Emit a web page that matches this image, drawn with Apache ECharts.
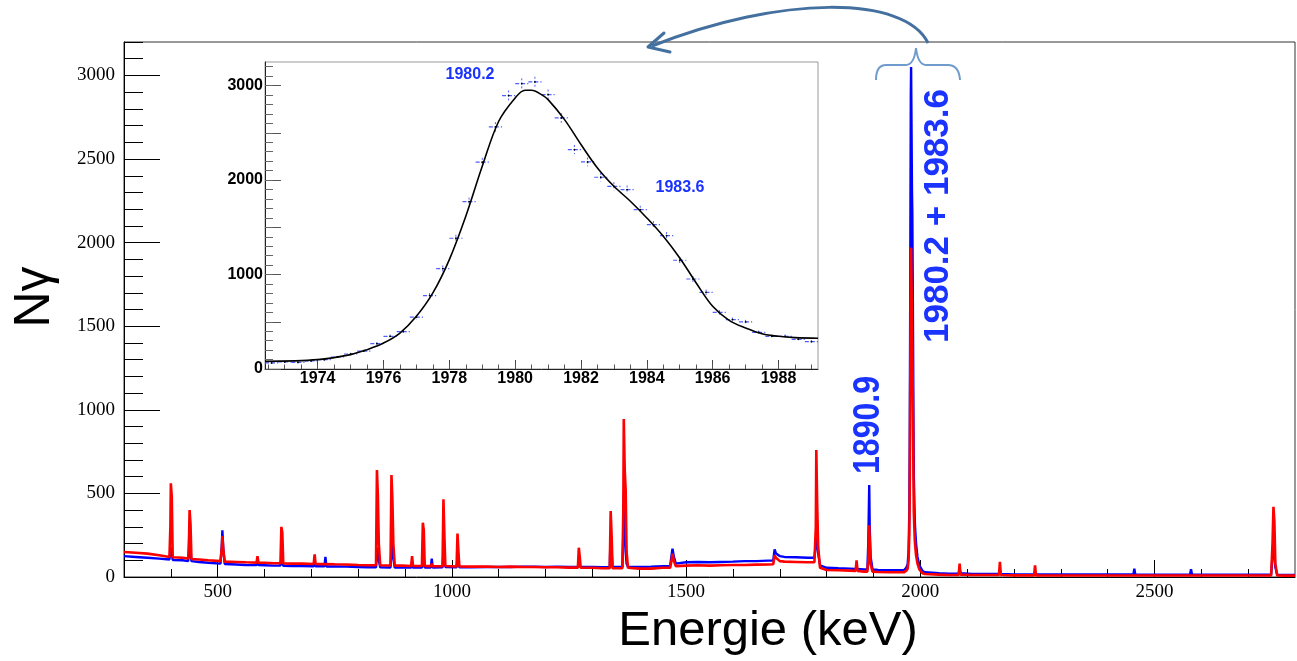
<!DOCTYPE html>
<html><head><meta charset="utf-8">
<script src="https://cdn.jsdelivr.net/npm/echarts@6/dist/echarts.min.js"></script>
<style>html,body{margin:0;padding:0;background:#fff}#c{width:1297px;height:661px}</style>
</head><body><div id="c"></div>
<script>
// ---- main spectrum (energy in keV, counts per bin) ----
const energyKeV = [
 300,325,350,375,397,399,400,402,404,425,
 437,439,440,442,444,460,480,506,509,510,
 512,515,540,560,583,585,587,600,620,634,
 636,638,640,660,680,705,707,709,728,730,
 732,750,775,800,820,838,840,842,844,847,
 869,871,873,875,878,895,913,915,917,936,
 938,940,942,955,957,959,980,982,984,986,
 1010,1012,1014,1016,1040,1075,1100,1125,1150,1175,
 1200,1225,1250,1269,1271,1273,1275,1300,1320,1337,
 1339,1341,1343,1364,1366,1367,1369,1371,1373,1376,
 1400,1425,1450,1466,1469,1471,1474,1478,1500,1525,
 1550,1575,1600,1625,1650,1675,1686,1689,1692,1700,
 1710,1735,1760,1774,1777,1778,1780,1782,1786,1800,
 1825,1850,1862,1864,1866,1880,1887,1889,1891,1892,
 1894,1898,1910,1935,1955,1965,1970,1973,1975,1976.6,
 1977.4,1978.2,1979,1979.8,1980.4,1981.4,1982.2,1983,1983.6,1984.6,
 1985.4,1986.2,1987,1988.2,1989,1991,1994,1998,2005,2010,
 2040,2060,2082,2084,2086,2110,2140,2168,2170,2172,
 2200,2225,2243,2245,2247,2275,2300,2350,2400,2455,
 2457,2459,2500,2550,2576,2578,2580,2620,2680,2720,
 2749,2752,2754,2756,2758,2762,2780,2800
];
const countsBlue = [
 125,120,115,110,105,150,175,140,102,100,
 95,150,190,150,95,90,85,80,200,280,
 170,78,75,72,71,90,71,70,68,68,
 115,100,67,66,65,64,80,64,64,120,
 63,63,62,60,58,58,140,175,100,58,
 57,180,225,110,57,57,57,70,57,57,
 100,115,57,57,110,57,58,150,160,60,
 58,115,90,58,58,60,60,60,62,62,
 60,62,60,60,80,70,60,60,58,58,
 270,150,60,60,250,500,330,150,80,62,
 60,62,65,66,130,170,120,80,88,90,
 88,90,92,95,95,98,98,165,140,125,
 120,118,115,115,200,260,200,140,70,55,
 52,50,48,60,48,45,45,200,550,300,
 120,45,42,40,40,40,55,75,150,395,
 777,1384,2189,2895,3050,2658,2320,2180,1900,1412,
 953,600,498,346,289,200,120,70,35,28,
 22,20,20,50,22,18,18,18,40,18,
 16,16,16,30,16,15,15,15,15,15,
 50,15,14,14,15,46,15,14,14,14,
 14,120,230,150,60,14,12,12
];
const countsRed = [
 150,145,140,130,120,300,560,480,118,115,
 110,250,400,315,108,105,100,95,180,245,
 160,92,90,88,86,125,86,85,82,82,
 300,265,81,80,80,78,135,78,77,80,
 77,76,75,72,70,70,640,485,200,70,
 69,610,465,200,68,68,66,125,66,66,
 325,280,66,65,80,65,64,465,250,66,
 63,260,150,63,62,62,60,62,60,60,
 58,58,56,56,175,120,56,55,52,52,
 395,250,53,52,400,945,640,520,150,55,
 50,50,55,56,100,140,95,65,68,70,
 68,70,72,72,74,75,76,130,115,95,
 92,90,88,88,300,760,420,180,55,42,
 40,38,36,100,36,32,32,100,310,220,
 80,32,30,28,28,28,38,50,100,260,
 500,900,1420,1880,1970,1730,1500,1410,1240,920,
 620,390,320,225,190,130,80,45,22,18,
 14,12,12,80,14,12,12,12,90,12,
 10,10,10,70,10,9,9,9,9,9,
 15,9,9,9,9,15,9,9,9,9,
 9,200,420,330,80,9,8,8
];
// ---- inset: zoom on the 1980.2 + 1983.6 doublet ----
const insetEnergy = [
 1972.6,1973.0,1973.4,1973.8,1974.2,1974.6,1975.0,1975.4,1975.8,1976.2,
 1976.6,1977.0,1977.4,1977.8,1978.2,1978.6,1979.0,1979.4,1979.8,1980.2,
 1980.6,1981.0,1981.4,1981.8,1982.2,1982.6,1983.0,1983.4,1983.8,1984.2,
 1984.6,1985.0,1985.4,1985.8,1986.2,1986.6,1987.0,1987.4,1987.8,1988.2,
 1988.6,1989.0
];
const insetCounts = [
 64,74,70,85,99,127,159,190,268,346,
 395,550,777,1063,1384,1772,2189,2563,2895,3022,
 3039,2905,2658,2323,2192,2030,1934,1899,1687,1528,
 1412,1151,953,812,600,522,498,388,346,346,
 314,289
];
const fitEnergy = [1972.4,1974,1975,1975.5,1976,1976.5,1977,1977.5,1978,1978.5,1979,1979.5,1980,1980.3,1980.5,1980.8,1981,1981.5,1982,1982.5,1983,1983.5,1984,1984.5,1985,1985.5,1986,1986.5,1987,1987.5,1988,1988.5,1989.2];
const fitCounts = [81,99,152,205,275,381,558,805,1158,1617,2146,2623,2870,2951,2951,2905,2852,2640,2376,2128,1934,1776,1599,1405,1175,911,664,515,434,374,346,332,325];

// ---- tick labels ----
const mainXLabels = [500,1000,1500,2000,2500];
const mainYLabels = [0,500,1000,1500,2000,2500,3000];
const insetXLabels = [1974,1976,1978,1980,1982,1984,1986,1988];
const insetYLabels = [0,1000,2000,3000];
const insetYMajorTicks = [0,500,1000,1500,2000,2500,3000];

const mainXMinor = []; for (let v = 400; v <= 2700; v += 100) mainXMinor.push(v);
const mainYMinor = []; for (let v = 100; v <= 3200; v += 100) mainYMinor.push(v);
const insetXMinor = []; for (let v = 19725; v <= 19890; v += 5) insetXMinor.push(v / 10);
const insetYMinor = []; for (let v = 100; v <= 3200; v += 100) insetYMinor.push(v);

const zip = (a, b) => a.map((v, i) => [v, b[i]]);
const plain = v => String(v);

const serif = "'Liberation Serif','DejaVu Serif',serif";
const narrow = "'Liberation Sans Narrow','Liberation Sans',Arial,sans-serif";
const sans = "'Liberation Sans',Arial,sans-serif";
const annBlue = '#1a33ff';
const braceCol = '#6f9ccc';
const arrowCol = '#44709f';

const chart = echarts.init(document.getElementById('c'), null, {renderer: 'canvas'});

function axisBase(gridIndex, min, max) {
  return {type: 'value', gridIndex, min, max, splitLine: {show: false}};
}

const option = {
  animation: false,
  backgroundColor: '#fff',
  grid: [
    {left: 124, top: 42, width: 1171, height: 535, show: true, borderColor: '#333', borderWidth: 1, backgroundColor: 'transparent'},
    {left: 265, top: 62, width: 553, height: 307, show: true, borderColor: '#999', borderWidth: 1, backgroundColor: '#fff'}
  ],
  xAxis: [
    Object.assign(axisBase(0, 300, 2800), {
      position: 'bottom',
      axisLine: {show: true, lineStyle: {color: '#000', width: 1}},
      axisTick: {show: true, inside: true, length: 17, customValues: mainXLabels, lineStyle: {color: '#000'}},
      axisLabel: {customValues: mainXLabels, formatter: plain, fontFamily: serif, fontSize: 19, color: '#000', margin: 6}
    }),
    Object.assign(axisBase(0, 300, 2800), {
      position: 'bottom',
      axisLine: {show: false},
      axisTick: {show: true, inside: true, length: 8, customValues: mainXMinor, lineStyle: {color: '#000'}},
      axisLabel: {show: false}
    }),
    Object.assign(axisBase(1, 1972.4, 1989.2), {
      position: 'bottom',
      axisLine: {show: true, lineStyle: {color: '#222', width: 1}},
      axisTick: {show: true, inside: true, length: 9, customValues: insetXLabels, lineStyle: {color: '#444'}},
      axisLabel: {customValues: insetXLabels, formatter: plain, fontFamily: narrow, fontWeight: 'bold', fontSize: 16, color: '#000', margin: 2}
    }),
    Object.assign(axisBase(1, 1972.4, 1989.2), {
      position: 'bottom',
      axisLine: {show: false},
      axisTick: {show: true, inside: true, length: 4.5, customValues: insetXMinor, lineStyle: {color: '#555'}},
      axisLabel: {show: false}
    })
  ],
  yAxis: [
    Object.assign(axisBase(0, 0, 3200), {
      position: 'left',
      axisLine: {show: true, lineStyle: {color: '#000', width: 1}},
      axisTick: {show: true, inside: true, length: 36, customValues: mainYLabels, lineStyle: {color: '#000'}},
      axisLabel: {customValues: mainYLabels, formatter: plain, fontFamily: serif, fontSize: 19, color: '#000', margin: 9}
    }),
    Object.assign(axisBase(0, 0, 3200), {
      position: 'left',
      axisLine: {show: false},
      axisTick: {show: true, inside: true, length: 19, customValues: mainYMinor, lineStyle: {color: '#000'}},
      axisLabel: {show: false}
    }),
    Object.assign(axisBase(1, 0, 3250), {
      position: 'left',
      axisLine: {show: true, lineStyle: {color: '#222', width: 1}},
      axisTick: {show: true, inside: true, length: 16, customValues: insetYMajorTicks, lineStyle: {color: '#555'}},
      axisLabel: {customValues: insetYLabels, formatter: plain, fontFamily: narrow, fontWeight: 'bold', fontSize: 16, color: '#000', margin: 2}
    }),
    Object.assign(axisBase(1, 0, 3250), {
      position: 'left',
      axisLine: {show: false},
      axisTick: {show: true, inside: true, length: 8, customValues: insetYMinor, lineStyle: {color: '#666'}},
      axisLabel: {show: false}
    })
  ],
  series: [
    {
      name: 'blue', type: 'line', xAxisIndex: 0, yAxisIndex: 0,
      data: zip(energyKeV, countsBlue), showSymbol: false, z: 3,
      lineStyle: {color: '#0000ff', width: 2.4}
    },
    {
      name: 'red', type: 'line', xAxisIndex: 0, yAxisIndex: 0,
      data: zip(energyKeV, countsRed), showSymbol: false, z: 4,
      lineStyle: {color: '#ff0000', width: 2.6}
    },
    {
      name: 'inset-data', type: 'custom', xAxisIndex: 2, yAxisIndex: 2, z: 5,
      data: zip(insetEnergy, insetCounts),
      renderItem: function (params, api) {
        const x = api.value(0), y = api.value(1), e = Math.sqrt(y);
        const l = api.coord([x - 0.2, y]), r = api.coord([x + 0.2, y]);
        const t = api.coord([x, y + e]), b = api.coord([x, y - e]);
        const c = api.coord([x, y]);
        return {type: 'group', children: [
          {type: 'line', shape: {x1: l[0], y1: l[1], x2: r[0], y2: r[1]}, style: {stroke: '#4d5fff', lineWidth: 1.2, lineDash: [4, 2]}},
          {type: 'line', shape: {x1: t[0], y1: t[1], x2: b[0], y2: b[1]}, style: {stroke: '#4d5fff', lineWidth: 1, lineDash: [2, 2]}},
          {type: 'circle', shape: {cx: c[0], cy: c[1], r: 0.9}, style: {fill: '#000'}}
        ]};
      }
    },
    {
      name: 'fit', type: 'line', xAxisIndex: 2, yAxisIndex: 2, z: 6,
      data: zip(fitEnergy, fitCounts), showSymbol: false, smooth: 0.35,
      lineStyle: {color: '#000', width: 1.6}
    }
  ],
  graphic: [
    {type: 'text', x: 35, y: 297, rotation: Math.PI / 2, z: 10,
      style: {text: 'N\u03b3', fontFamily: sans, fontSize: 50, fill: '#000', textAlign: 'center', textVerticalAlign: 'middle'}},
    {type: 'text', x: 768, y: 631, z: 10,
      style: {text: 'Energie (keV)', fontFamily: sans, fontSize: 49, fill: '#000', textAlign: 'center', textVerticalAlign: 'middle'}},
    {type: 'text', x: 869, y: 425, rotation: Math.PI / 2, scaleX: 0.89, z: 10,
      style: {text: '1890.9', fontFamily: sans, fontWeight: 'bold', fontSize: 36, fill: annBlue, textAlign: 'center', textVerticalAlign: 'middle'}},
    {type: 'text', x: 938, y: 216, rotation: Math.PI / 2, z: 10,
      style: {text: '1980.2 + 1983.6', fontFamily: sans, fontWeight: 'bold', fontSize: 35, fill: annBlue, textAlign: 'center', textVerticalAlign: 'middle'}},
    {type: 'text', x: 470, y: 75, z: 10,
      style: {text: '1980.2', fontFamily: sans, fontWeight: 'bold', fontSize: 16, fill: annBlue, textAlign: 'center', textVerticalAlign: 'middle'}},
    {type: 'text', x: 680, y: 188, z: 10,
      style: {text: '1983.6', fontFamily: sans, fontWeight: 'bold', fontSize: 16, fill: annBlue, textAlign: 'center', textVerticalAlign: 'middle'}},
    // brace over the doublet
    {type: 'bezierCurve', z: 10, shape: {x1: 876, y1: 80, cpx1: 876, cpy1: 65, x2: 886, y2: 65}, style: {stroke: braceCol, lineWidth: 2, fill: null}},
    {type: 'line', z: 10, shape: {x1: 886, y1: 65, x2: 906, y2: 65}, style: {stroke: braceCol, lineWidth: 2}},
    {type: 'bezierCurve', z: 10, shape: {x1: 906, y1: 65, cpx1: 914, cpy1: 65, x2: 916, y2: 48}, style: {stroke: braceCol, lineWidth: 2, fill: null}},
    {type: 'bezierCurve', z: 10, shape: {x1: 916, y1: 48, cpx1: 918, cpy1: 65, x2: 926, y2: 65}, style: {stroke: braceCol, lineWidth: 2, fill: null}},
    {type: 'line', z: 10, shape: {x1: 926, y1: 65, x2: 948, y2: 65}, style: {stroke: braceCol, lineWidth: 2}},
    {type: 'bezierCurve', z: 10, shape: {x1: 948, y1: 65, cpx1: 959, cpy1: 65, x2: 960, y2: 80}, style: {stroke: braceCol, lineWidth: 2, fill: null}},
    // arrow to the inset
    {type: 'bezierCurve', z: 10, shape: {x1: 928, y1: 43, cpx1: 905, cpy1: -5, cpx2: 780, cpy2: -5, x2: 652, y2: 46}, style: {stroke: arrowCol, lineWidth: 3, fill: null}},
    {type: 'polyline', z: 10, shape: {points: [[664, 33], [648, 47], [670, 52]]}, style: {stroke: arrowCol, lineWidth: 3, fill: null, lineJoin: 'round', lineCap: 'round'}}
  ]
};
chart.setOption(option);
</script>
</body></html>
